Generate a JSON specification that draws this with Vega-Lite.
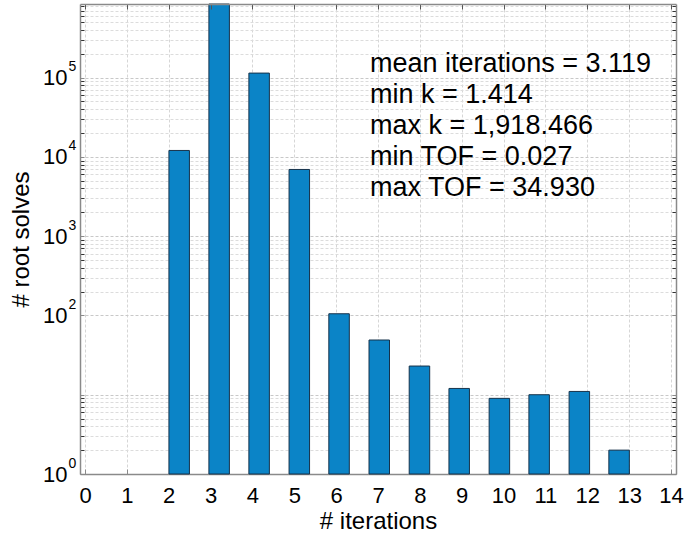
{
  "$schema": "https://vega.github.io/schema/vega-lite/v6.json",
  "width": 596,
  "height": 470,
  "autosize": "none",
  "padding": {"left": 80, "top": 4, "right": 15, "bottom": 64},
  "background": "white",
  "config": {
    "view": {"stroke": null},
    "font": "Liberation Sans",
    "axis": {
      "domainColor": "#8a8a8a",
      "domainWidth": 1.5,
      "labelColor": "#000000",
      "titleColor": "#000000",
      "titleFontWeight": "normal",
      "labelFlush": false,
      "labelOverlap": false
    }
  },
  "datasets": {
    "histogram": [
      {"iterations": 2, "bin_center": 2.25, "count": 12050},
      {"iterations": 3, "bin_center": 3.205, "count": 848000},
      {"iterations": 4, "bin_center": 4.16, "count": 114000},
      {"iterations": 5, "bin_center": 5.12, "count": 6940},
      {"iterations": 6, "bin_center": 6.07, "count": 105},
      {"iterations": 7, "bin_center": 7.03, "count": 49},
      {"iterations": 8, "bin_center": 7.99, "count": 23},
      {"iterations": 9, "bin_center": 8.94, "count": 12},
      {"iterations": 10, "bin_center": 9.9, "count": 9},
      {"iterations": 11, "bin_center": 10.85, "count": 10},
      {"iterations": 12, "bin_center": 11.81, "count": 11},
      {"iterations": 13, "bin_center": 12.76, "count": 2}
    ],
    "stats": [
      {"summary": "mean iterations = 3.119\nmin k = 1.414\nmax k = 1,918.466\nmin TOF = 0.027\nmax TOF = 34.930"}
    ]
  },
  "layer": [
    {
      "data": {"name": "histogram"},
      "mark": {"type": "bar", "width": 20.5, "color": "#0b84c7", "stroke": "#17324a", "strokeWidth": 1},
      "encoding": {
        "x": {
          "field": "bin_center",
          "type": "quantitative",
          "scale": {"domain": [0, 14], "nice": false, "zero": false},
          "axis": {
            "orient": "bottom",
            "values": [0, 1, 2, 3, 4, 5, 6, 7, 8, 9, 10, 11, 12, 13, 14],
            "format": "d",
            "labelFontSize": 22,
            "labelPadding": 16,
            "grid": true,
            "gridColor": "#d6d6d6",
            "gridDash": [3, 2],
            "ticks": true,
            "tickSize": -5,
            "tickColor": "#8a8a8a",
            "title": "# iterations",
            "titleFontSize": 24,
            "titlePadding": 3
          }
        },
        "y": {
          "field": "count",
          "type": "quantitative",
          "scale": {"type": "log", "domain": [1, 848000], "nice": false},
          "axis": {
            "orient": "left",
            "values": [1, 2, 3, 4, 5, 6, 7, 8, 9, 10, 100, 200, 300, 400, 500, 600, 700, 800, 900, 1000, 2000, 3000, 4000, 5000, 6000, 7000, 8000, 9000, 10000, 20000, 30000, 40000, 50000, 60000, 70000, 80000, 90000, 100000, 200000, 300000, 400000, 500000, 600000, 700000, 800000],
            "labelExpr": "indexof([1, 100, 1000, 10000, 100000], datum.value) >= 0 ? '10' : ''",
            "labelFontSize": 22,
            "labelPadding": 17,
            "grid": true,
            "gridColor": {"condition": {"test": "indexof([1, 10, 100, 1000, 10000, 100000], datum.value) >= 0", "value": "#c8c8c8"}, "value": "#dcdcdc"},
            "gridDash": [3, 2],
            "ticks": true,
            "tickSize": -4,
            "tickColor": {"condition": {"test": "indexof([1, 10, 100, 1000, 10000, 100000], datum.value) >= 0", "value": "#8a8a8a"}, "value": "#333333"},
            "title": "# root solves",
            "titleFontSize": 24,
            "titlePadding": 9
          }
        },
        "y2": {"datum": 1}
      }
    },
    {
      "data": {"name": "stats"},
      "mark": {"type": "text", "align": "left", "baseline": "alphabetic", "fontSize": 27, "lineBreak": "\n", "lineHeight": 31, "color": "#000000"},
      "encoding": {
        "x": {
          "datum": 6.81,
          "type": "quantitative",
          "axis": {
            "orient": "top",
            "values": [0, 1, 2, 3, 4, 5, 6, 7, 8, 9, 10, 11, 12, 13, 14],
            "labels": false,
            "grid": false,
            "ticks": true,
            "tickSize": -5,
            "tickColor": "#555555",
            "title": null,
            "zindex": 1
          }
        },
        "y": {
          "datum": 118600,
          "type": "quantitative",
          "axis": {
            "orient": "left",
            "values": [1, 100, 1000, 10000, 100000],
            "labelExpr": "format(log(datum.value) / LN10, 'd')",
            "labelFontSize": 14,
            "labelAlign": "left",
            "labelPadding": 12,
            "labelOffset": -11,
            "ticks": false,
            "domain": false,
            "grid": false,
            "title": null
          }
        },
        "text": {"field": "summary"}
      }
    },
    {
      "description": "upper frame line of the plot box, carrying the right-hand tick axis",
      "mark": {"type": "rule", "color": "#8a8a8a", "strokeWidth": 1.5},
      "encoding": {
        "y": {
          "datum": 848000,
          "type": "quantitative",
          "axis": {
            "orient": "right",
            "values": [1, 2, 3, 4, 5, 6, 7, 8, 9, 10, 100, 200, 300, 400, 500, 600, 700, 800, 900, 1000, 2000, 3000, 4000, 5000, 6000, 7000, 8000, 9000, 10000, 20000, 30000, 40000, 50000, 60000, 70000, 80000, 90000, 100000, 200000, 300000, 400000, 500000, 600000, 700000, 800000],
            "labels": false,
            "grid": false,
            "ticks": true,
            "tickSize": -4,
            "tickColor": {"condition": {"test": "indexof([1, 10, 100, 1000, 10000, 100000], datum.value) >= 0", "value": "#8a8a8a"}, "value": "#333333"},
            "title": null,
            "zindex": 1
          }
        }
      }
    }
  ],
  "resolve": {"axis": {"x": "independent", "y": "independent"}}
}
